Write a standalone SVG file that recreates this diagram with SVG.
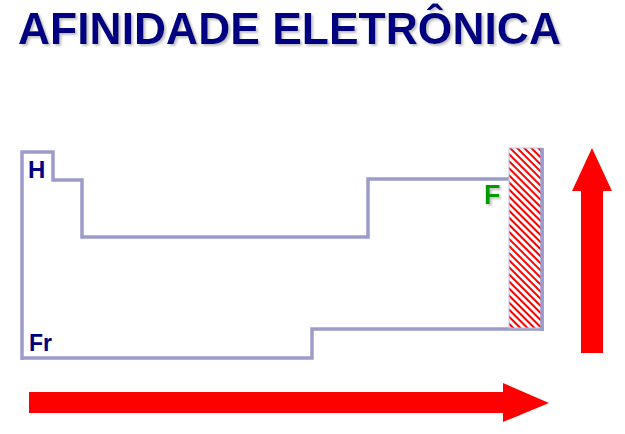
<svg xmlns="http://www.w3.org/2000/svg" width="625" height="434" viewBox="0 0 625 434">
<style>
.t{font-family:"Liberation Sans",Arial,sans-serif;font-weight:bold}
.sh{filter:url(#shadow)}
.outline{fill:none;stroke:#9c9ccc;stroke-width:3.5;stroke-linejoin:miter}
.arrow{fill:#ff0000}
</style>
<defs>
<filter id="shadow" x="-5%" y="-20%" width="110%" height="150%">
<feDropShadow dx="2" dy="2" stdDeviation="0.8" flood-color="#999999" flood-opacity="0.6"/>
</filter>
<pattern id="hatch" patternUnits="userSpaceOnUse" width="5" height="5" patternTransform="rotate(-45)">
<rect width="5" height="5" fill="#ffffff"/>
<rect x="0" y="0" width="2" height="5" fill="#ff0000"/>
</pattern>
</defs>
<rect width="625" height="434" fill="#ffffff"/>
<g id="title">
<text class="t sh" x="18" y="44" font-size="44.5" fill="#000080" textLength="543" lengthAdjust="spacingAndGlyphs">AFINIDADE ELETRÔNICA</text>
</g>
<g id="table">
<path class="outline" d="M22,360 V152 H53 V180 H82 V237 H368 V179 H509"/>
<path class="outline" d="M542,148 V331 M543,329 H312 V358 H22"/>
</g>
<g id="group17">
<rect x="509" y="148" width="33" height="180" fill="url(#hatch)" stroke="#c0c0e0" stroke-width="1"/>
<line x1="542" y1="148" x2="542" y2="331" stroke="#9c9ccc" stroke-width="3.5"/>
</g>
<g id="labels">
<text class="t" x="28" y="178" font-size="24" fill="#000080">H</text>
<text class="t" x="29" y="351" font-size="23" fill="#000080">Fr</text>
<text class="t sh" x="484" y="204" font-size="27" fill="#009900">F</text>
</g>
<g id="arrows">
<polygon class="arrow" points="581,353 603,353 603,191 612,191 592,148 572,191 581,191"/>
<polygon class="arrow" points="29,392 503,392 503,383 549,403 503,422 503,413 29,413"/>
</g>
</svg>
